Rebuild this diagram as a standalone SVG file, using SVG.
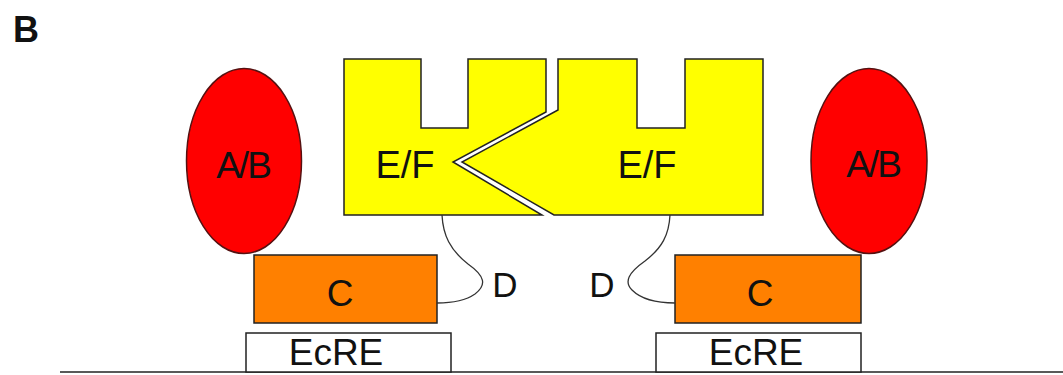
<svg xmlns="http://www.w3.org/2000/svg" width="1063" height="375" viewBox="0 0 1063 375">
<style>
.t{font-family:"Liberation Sans",Arial,sans-serif;fill:#111;text-anchor:middle}
.ef{fill:#FFFF00;stroke:#222;stroke-width:1.5}
.ab{fill:#FF0000;stroke:#551111;stroke-width:1.5}
.c{fill:#FF8000;stroke:#222;stroke-width:1.5}
.e{fill:#fff;stroke:#222;stroke-width:1.5}
.ln{fill:none;stroke:#333;stroke-width:1.3}
</style>
<rect width="1063" height="375" fill="#fff"/>
<text x="13" y="42" style="font-family:'Liberation Sans',Arial,sans-serif;font-weight:bold;font-size:36px;fill:#111">B</text>
<g id="dna"><line x1="60" y1="372" x2="1063" y2="372" stroke="#222" stroke-width="1.6"/></g>
<g id="ecre-left"><rect class="e" x="246" y="333" width="205" height="39"/><text class="t" x="336" y="365" font-size="37">EcRE</text></g>
<g id="ecre-right"><rect class="e" x="656" y="333" width="205" height="39"/><text class="t" x="756" y="365" font-size="37">EcRE</text></g>
<g id="ef-left"><polygon class="ef" points="344,59 421,59 421,128 468,128 468,59 546,59 546,112 453,162 542,215 344,215"/><text class="t" x="405" y="178" font-size="38">E/F</text></g>
<g id="ef-right"><polygon class="ef" points="558,59 637,59 637,128 685,128 685,59 763,59 763,215 554,215 462,162 558,110"/><text class="t" x="647" y="178" font-size="38">E/F</text></g>
<g id="ab-left"><ellipse class="ab" cx="244" cy="161" rx="57.5" ry="92.5"/><text class="t" x="243" y="178" font-size="37" letter-spacing="-2">A/B</text></g>
<g id="ab-right"><ellipse class="ab" cx="869" cy="161" rx="58" ry="92.5"/><text class="t" x="873" y="177" font-size="37" letter-spacing="-2">A/B</text></g>
<g id="c-left"><rect class="c" x="254" y="255" width="183" height="68"/><text class="t" x="340" y="306" font-size="37">C</text></g>
<g id="c-right"><rect class="c" x="675" y="255" width="186" height="68"/><text class="t" x="760" y="306" font-size="37">C</text></g>
<g id="connectors">
<path class="ln" d="M442,215 C443,235 450,250 468,264 C485,276 487,285 475,294 C465,301 452,303 437,303"/>
<path class="ln" d="M670,215 C669,235 662,248 645,261 C628,273 624,282 632,290 C640,298 655,303 675,303"/>
</g>
<g id="d-left"><text class="t" x="505" y="297" font-size="35">D</text></g>
<g id="d-right"><text class="t" x="602" y="297" font-size="35">D</text></g>
</svg>
